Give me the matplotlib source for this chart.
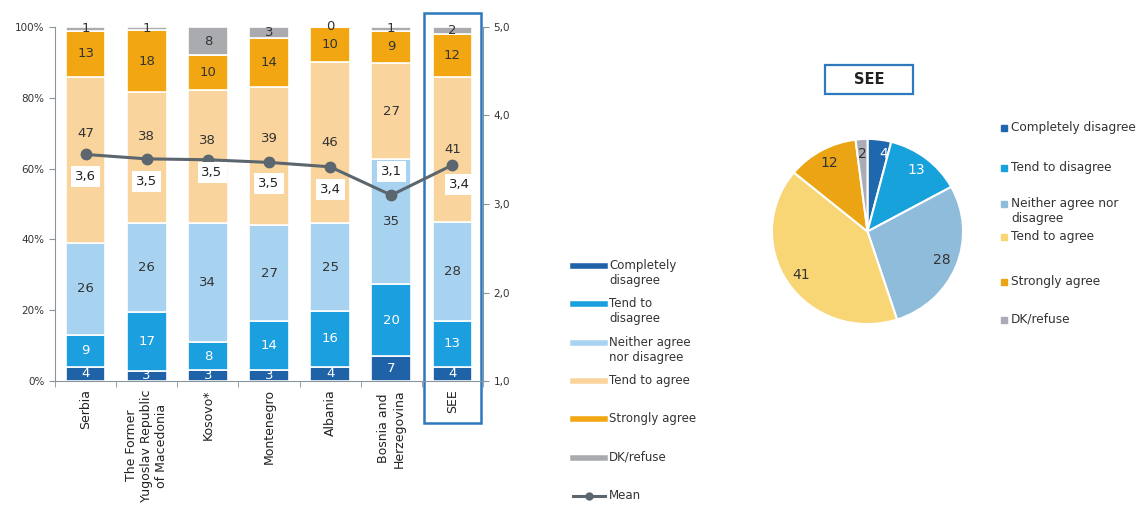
import matplotlib
matplotlib.use("Agg")
import matplotlib.pyplot as plt
import numpy as np
from matplotlib.lines import Line2D
from matplotlib.patches import Rectangle

# Data
countries = ["Serbia", "The Former\nYugoslav Republic\nof Macedonia", "Kosovo*",
             "Montenegro", "Albania", "Bosnia and\nHerzegovina", "SEE"]
completely_disagree = [4, 3, 3, 3, 4, 7, 4]
tend_to_disagree = [9, 17, 8, 14, 16, 20, 13]
neither = [26, 26, 34, 27, 25, 35, 28]
tend_to_agree = [47, 38, 38, 39, 46, 27, 41]
strongly_agree = [13, 18, 10, 14, 10, 9, 12]
dk_refuse = [1, 1, 8, 3, 0, 1, 2]
mean_score = [3.56, 3.51, 3.50, 3.47, 3.42, 3.10, 3.44]

pie_labels = ["Completely disagree", "Tend to disagree", "Neither agree nor\ndisagree",
              "Tend to agree", "Strongly agree", "DK/refuse"]
pie_values = [4, 13, 28, 41, 12, 2]

bar_legend = ["Completely\ndisagree", "Tend to\ndisagree", "Neither agree\nnor disagree",
              "Tend to agree", "Strongly agree", "DK/refuse"]
bar_colors = ["#1f62a8", "#1b9fdf", "#a8d3f0", "#f9d49c", "#f2a712", "#a9abae"]
bar_text = ["white", "white", "#333333", "#333333", "#333333", "#333333"]
pie_colors = ["#1f68ae", "#18a2dc", "#8fbcda", "#f8d676", "#eaa414", "#a9abb5"]
pie_text = ["white", "white", "#333333", "#333333", "#333333", "#333333"]
mean_color = "#5c666e"
frame_blue = "#2e78bd"
spine_col = "#8a949c"

W, H = 1139, 513
fig = plt.figure(figsize=(W / 100, H / 100), dpi=100)


def fx(px):
    return px / W


def fy(py):
    return 1 - py / H


# ---- stacked bars ----
ax = fig.add_axes([fx(55), fy(381), fx(483) - fx(55), fy(27) - fy(381)])
series = [completely_disagree, tend_to_disagree, neither, tend_to_agree, strongly_agree, dk_refuse]
data = np.array(series, dtype=float)
share = data / data.sum(axis=0) * 100
x = np.arange(len(countries))
# where inside the "tend to agree" segment its label sits (moved up clear of the mean line)
ta_label_pos = [0.66, 0.66, 0.62, 0.63, 0.5, 0.5, 0.5]
bottom = np.zeros(len(countries))
for i, row in enumerate(share):
    ax.bar(x, row, 0.65, bottom=bottom, color=bar_colors[i], edgecolor="white", linewidth=1.2)
    for j in range(len(countries)):
        frac = ta_label_pos[j] if i == 3 else 0.5
        ax.text(x[j], bottom[j] + row[j] * frac, str(int(data[i, j])), ha="center", va="center",
                fontsize=9.5, color=bar_text[i])
    bottom += row

ax.set_xlim(-0.5, len(countries) - 0.5)
ax.set_ylim(0, 100)
ax.set_yticks([0, 20, 40, 60, 80, 100])
ax.set_yticklabels(["0%", "20%", "40%", "60%", "80%", "100%"], fontsize=7.5, color="#333333")
ax.set_xticks(x)
ax.set_xticklabels(countries, rotation=90, fontsize=9, color="#222222", ha="center", va="top")
ax.tick_params(axis="x", length=0, pad=6)
ax.set_xticks(np.arange(len(countries) + 1) - 0.5, minor=True)
ax.tick_params(axis="x", which="minor", length=4, color=spine_col)
ax.tick_params(axis="y", length=4, color=spine_col)
for s in ["top", "right"]:
    ax.spines[s].set_visible(False)
for s in ["left", "bottom"]:
    ax.spines[s].set_color(spine_col)

ax2 = ax.twinx()
ax2.set_ylim(1, 5)
ax2.set_yticks([1, 2, 3, 4, 5])
ax2.set_yticklabels(["1,0", "2,0", "3,0", "4,0", "5,0"], fontsize=7.5, color="#333333")
ax2.tick_params(axis="y", length=4, color=spine_col)
for s in ["top", "left", "bottom"]:
    ax2.spines[s].set_visible(False)
ax2.spines["right"].set_color(spine_col)
ax2.plot(x, mean_score, color=mean_color, lw=2.2, marker="o", markersize=7.5, zorder=5)
offsets = [(0, -16), (0, -16.5), (3, -9.5), (0, -15), (0, -16), (0, 17), (5, -14)]
for j, m in enumerate(mean_score):
    ax2.annotate(f"{m:.1f}".replace(".", ","), (x[j], m), xytext=offsets[j], textcoords="offset points",
                 ha="center", va="center", fontsize=9.5, color="#222222", zorder=6,
                 bbox=dict(boxstyle="square,pad=0.3", fc="white", ec="none"))

# highlight frame around SEE
k = countries.index("SEE")
ax.add_patch(Rectangle((k - 0.47, -12), 0.94, 116, fill=False, ec=frame_blue, lw=1.8, clip_on=False))

# bar legend
for i, lab in enumerate(bar_legend + ["Mean"]):
    yy = 266 + i * 38.3
    if lab == "Mean":
        fig.add_artist(Line2D([fx(573), fx(605)], [fy(yy), fy(yy)], color=mean_color, lw=2.2,
                              transform=fig.transFigure))
        fig.add_artist(Line2D([fx(589)], [fy(yy)], color=mean_color, marker="o", markersize=5,
                              transform=fig.transFigure))
    else:
        fig.add_artist(Line2D([fx(573), fx(605)], [fy(yy), fy(yy)], color=bar_colors[i], lw=4,
                              transform=fig.transFigure))
    fig.text(fx(609), fy(yy - 7), lab, ha="left", va="top", fontsize=8.5, color="#333333",
             linespacing=1.2)

# ---- pie ----
pax = fig.add_axes([fx(771), fy(325), fx(964) - fx(771), fy(138) - fy(325)])
wedges, texts = pax.pie(pie_values, colors=pie_colors, startangle=90, counterclock=False,
                        labels=[str(v) for v in pie_values], labeldistance=0.84,
                        wedgeprops=dict(edgecolor="white", linewidth=1.5),
                        textprops=dict(fontsize=10))
for t, c in zip(texts, pie_text):
    t.set_color(c)
    t.set_ha("center")
    t.set_va("center")
texts[0].set_position((0.17, 0.84))
texts[-1].set_position((-0.05, 0.84))
pax.set_aspect("auto")
pax.set_xlim(-1.01, 1.01)
pax.set_ylim(-1.01, 1.01)

fig.text(fx(869), fy(80), "SEE", ha="center", va="center", fontsize=10.5, fontweight="bold",
         color="#222222")
fig.add_artist(Rectangle((fx(825), fy(94)), fx(913) - fx(825), fy(65) - fy(94), fill=False,
                         ec=frame_blue, lw=1.6, transform=fig.transFigure))

legend_y = [128, 168, 204, 237, 282, 320]
for i, lab in enumerate(pie_labels):
    fig.add_artist(Rectangle((fx(1001), fy(legend_y[i] + 3)), fx(6), fy(0) - fy(6),
                             color=pie_colors[i], transform=fig.transFigure))
    fig.text(fx(1011), fy(legend_y[i] - 7), lab, ha="left", va="top", fontsize=8.7, color="#333333",
             linespacing=1.2)

fig.savefig("out.png", dpi=100)
